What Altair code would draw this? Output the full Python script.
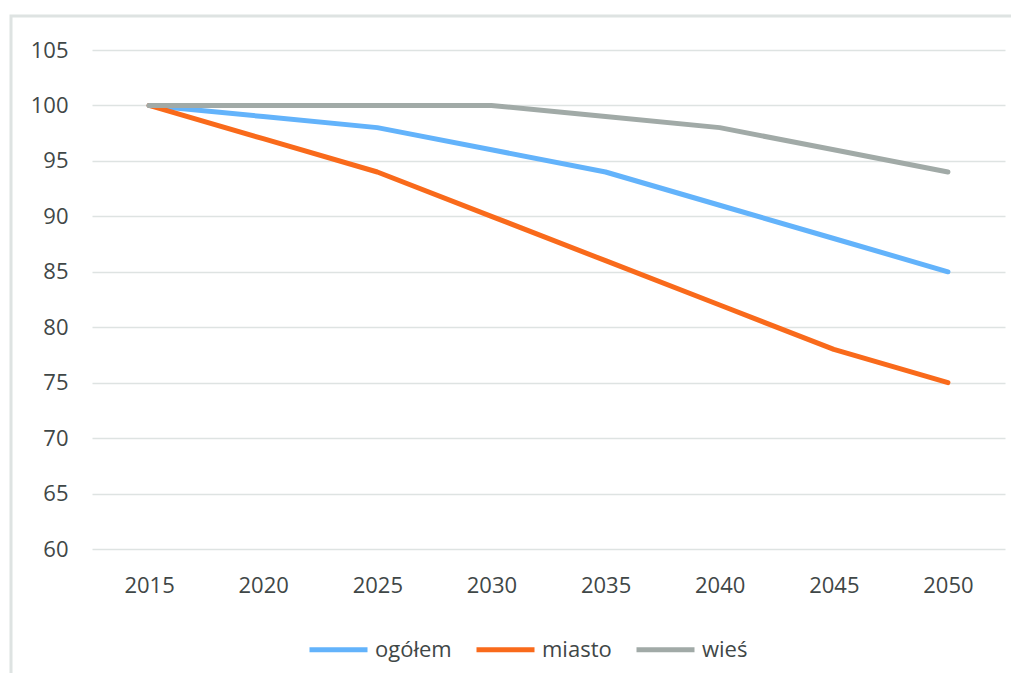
import altair as alt
import pandas as pd

years = ["2015", "2020", "2025", "2030", "2035", "2040", "2045", "2050"]
ogolem = [100, 99, 98, 96, 94, 91, 88, 85]
miasto = [100, 97, 94, 90, 86, 82, 78, 75]
wies = [100, 100, 100, 100, 99, 98, 96, 94]
series_names = ["ogółem", "miasto", "wieś"]
colors = ["#63B3FB", "#F96A1B", "#A1AAA7"]

rows = []
for name, vals in zip(series_names, [ogolem, miasto, wies]):
    for y, v in zip(years, vals):
        rows.append({"rok": y, "wartosc": v, "seria": name})
df = pd.DataFrame(rows)

FONT = "Open Sans"
TXT = "#3f4747"

lines = alt.Chart(df).mark_line(strokeWidth=5, strokeCap="round", strokeJoin="round").encode(
    x=alt.X("rok:N", sort=years, title=None,
            scale=alt.Scale(type="point", padding=0.5),
            axis=alt.Axis(labelAngle=0, ticks=False, domain=False, grid=False,
                          labelPadding=26, labelFontSize=22, labelFont=FONT, labelColor=TXT)),
    y=alt.Y("wartosc:Q", title=None,
            scale=alt.Scale(domain=[60, 105], nice=False, zero=False),
            axis=alt.Axis(values=list(range(60, 106, 5)), ticks=False, domain=False,
                          labelPadding=24, labelFontSize=22, labelFont=FONT, labelColor=TXT,
                          gridColor="#DEE3E2", gridWidth=1.5)),
    color=alt.Color("seria:N", sort=series_names,
                    scale=alt.Scale(domain=series_names, range=colors),
                    legend=alt.Legend(title=None, orient="none", direction="horizontal",
                                      legendX=215, legendY=568,
                                      symbolType="stroke", symbolSize=3364, symbolStrokeWidth=5,
                                      labelFontSize=22, labelFont=FONT, labelColor=TXT,
                                      labelOffset=5, columnPadding=14)),
    order=alt.Order("rok:N"),
)

frame = alt.Chart(pd.DataFrame({"a": [0]})).mark_rect(fill="transparent", stroke="#DEE3E2", strokeWidth=3).encode(
    x=alt.value(-81), x2=alt.value(2000), y=alt.value(-34), y2=alt.value(2000)
)

chart = alt.layer(frame, lines).properties(
    width=913, height=499,
    background="white",
    autosize=alt.AutoSizeParams(type="none"),
    padding={"left": 84, "top": 42, "right": 6, "bottom": 124},
).configure_view(strokeWidth=0, stroke="transparent")

chart.save("out.html", embed_options={"renderer": "svg", "actions": False})
